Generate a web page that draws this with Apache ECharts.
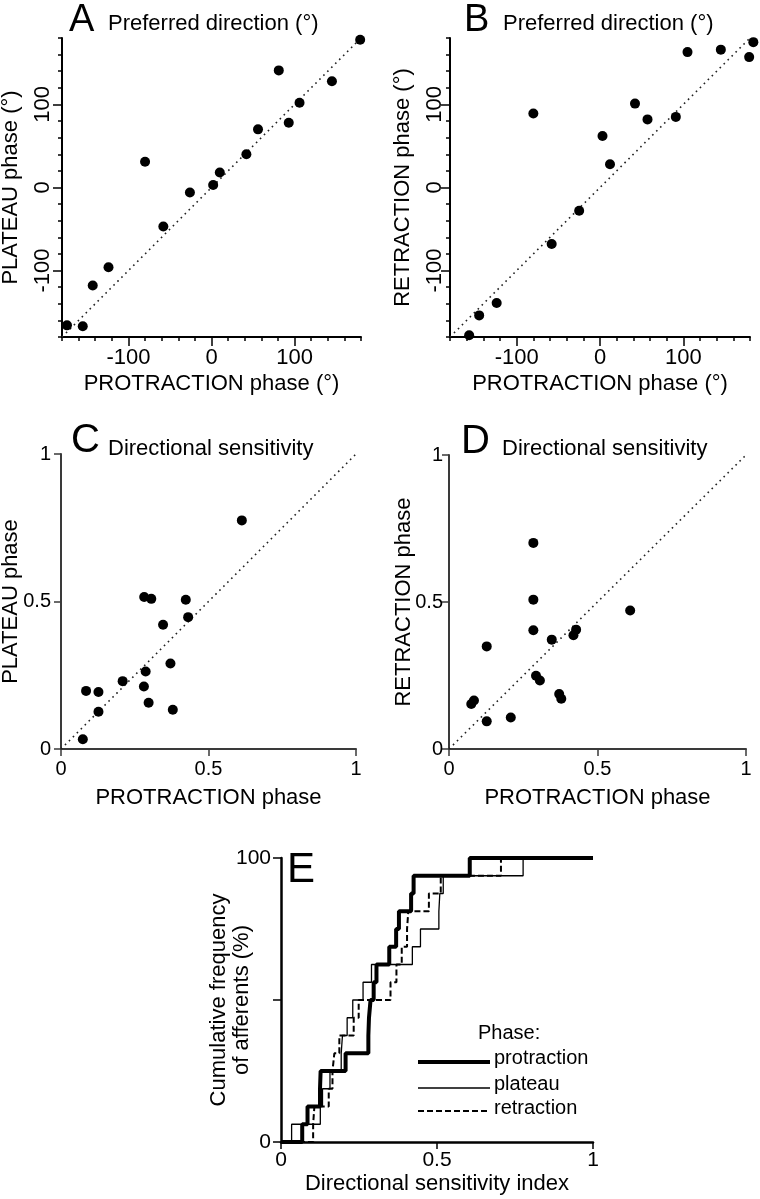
<!DOCTYPE html>
<html><head><meta charset="utf-8">
<script src="https://cdn.jsdelivr.net/npm/echarts@6/dist/echarts.min.js"></script>
<style>html,body{margin:0;padding:0;background:#fff}#c{width:760px;height:1199px}</style>
</head><body><div id="c"></div>
<script>
const FONT = 'Liberation Sans, Arial, sans-serif';

// ---- Panel A: preferred direction, protraction vs plateau (deg)
const aProtraction = [-174, -155, -143, -124, -80, -58, -26, 2, 10, 42, 56, 81, 93, 106, 145, 179];
const aPlateau     = [-166, -167, -118, -96, 31, -47, -6, 3, 18, 40, 70, 141, 78, 102, 128, 178];
// ---- Panel B: preferred direction, protraction vs retraction (deg)
const bProtraction = [-157, -145, -124, -80, -58, -25, 3, 12, 42, 57, 91, 105, 145, 179, 184];
const bRetraction  = [-178, -154, -139, 89, -68, -28, 62, 28, 101, 82, 85, 163, 166, 157, 175];
// ---- Panel C: directional sensitivity, protraction vs plateau
const cProtraction = [0.613, 0.282, 0.306, 0.423, 0.431, 0.346, 0.371, 0.287, 0.209, 0.281, 0.085, 0.127, 0.297, 0.379, 0.127, 0.074];
const cPlateau     = [0.775, 0.515, 0.509, 0.506, 0.447, 0.421, 0.290, 0.263, 0.230, 0.212, 0.197, 0.193, 0.157, 0.133, 0.126, 0.033];
// ---- Panel D: directional sensitivity, protraction vs retraction
const dProtraction = [0.284, 0.284, 0.610, 0.284, 0.428, 0.419, 0.346, 0.127, 0.293, 0.306, 0.371, 0.378, 0.075, 0.084, 0.127, 0.208];
const dRetraction  = [0.701, 0.508, 0.471, 0.404, 0.406, 0.387, 0.372, 0.349, 0.249, 0.233, 0.187, 0.171, 0.153, 0.165, 0.094, 0.107];
// ---- Panel E: cumulative distributions (step positions along the index axis)
const eProtraction = [0.068, 0.085, 0.125, 0.127, 0.207, 0.280, 0.282, 0.287, 0.297, 0.306, 0.347, 0.369, 0.378, 0.417, 0.425, 0.605];
const ePlateau     = [0.034, 0.126, 0.133, 0.157, 0.193, 0.197, 0.212, 0.230, 0.263, 0.290, 0.421, 0.447, 0.506, 0.509, 0.520, 0.776];
const eRetraction  = [0.103, 0.107, 0.153, 0.165, 0.171, 0.187, 0.233, 0.249, 0.351, 0.370, 0.387, 0.404, 0.408, 0.474, 0.512, 0.705];
const eLevels      = [6.25, 12.5, 18.75, 25, 31.25, 37.5, 43.75, 50, 56.25, 62.5, 68.75, 75, 81.25, 87.5, 93.75, 100];

// ---- axes / ticks
const degRange  = [-180, 180];
const degTicks  = [-100, 0, 100];
const unitRange = [0, 1];
const eYRange   = [0, 100];
const eYLabels  = [0, 100];

const pairs = (xs, ys) => xs.map((x, i) => [x, ys[i]]);
const ecdf = xs => [[unitRange[0], 0]].concat(xs.map((x, i) => [x, eLevels[i]])).concat([[unitRange[1], 100]]);

const nameStyle = (size, extra) => Object.assign({ fontSize: size, color: '#000', fontFamily: FONT }, extra || {});

function mainAxis(gi, range, interval, tickLen, color, lw, extra) {
  return Object.assign({
    gridIndex: gi, type: 'value', min: range[0], max: range[1], interval: interval,
    axisLine: { show: true, onZero: false, lineStyle: { color: color, width: lw } },
    axisTick: { show: true, length: tickLen, lineStyle: { color: color, width: 1.5 } },
    axisLabel: { show: false },
    splitLine: { show: false },
    nameMoveOverlap: false
  }, extra || {});
}
function overlayAxis(gi, range, name, nameGap, labelMargin, rotate) {
  return {
    gridIndex: gi, type: 'value', min: range[0], max: range[1],
    axisLine: { show: false, onZero: false },
    axisTick: { show: true, customValues: degTicks, length: 9, lineStyle: { color: '#000', width: 1.5 } },
    axisLabel: { show: true, customValues: degTicks, fontSize: 22, color: '#000', fontFamily: FONT, margin: labelMargin, rotate: rotate || 0 },
    splitLine: { show: false },
    name: name, nameLocation: 'middle', nameGap: nameGap, nameMoveOverlap: false,
    nameTextStyle: nameStyle(22)
  };
}
function unitAxis(gi, name, nameGap, margin, color) {
  return mainAxis(gi, unitRange, 0.5, 7, color, 2, {
    axisLabel: { show: true, fontSize: 20, color: '#000', fontFamily: FONT, margin: margin },
    name: name, nameLocation: 'middle', nameGap: nameGap, nameMoveOverlap: false,
    nameTextStyle: nameStyle(22)
  });
}

const grids = [
  { left: 62, top: 38, width: 299, height: 299 },      // 0 A
  { left: 62, top: 38, width: 299, height: 299 },      // 1 A overlay
  { left: 450, top: 38, width: 300, height: 299 },     // 2 B
  { left: 450, top: 38, width: 300, height: 299 },     // 3 B overlay
  { left: 61, top: 454, width: 295, height: 295 },     // 4 C
  { left: 449, top: 455, width: 297, height: 294 },    // 5 D
  { left: 281, top: 858, width: 312, height: 284 }     // 6 E
].map(g => Object.assign({ outerBoundsMode: 'none', containLabel: false, show: false }, g));

const CD = '#3a3a3a';
const xAxes = [
  mainAxis(0, degRange, 20, 4, '#000', 2),
  overlayAxis(1, degRange, 'PROTRACTION phase (°)', 36, 10),
  mainAxis(2, degRange, 20, 4, '#000', 2),
  overlayAxis(3, degRange, 'PROTRACTION phase (°)', 36, 10),
  unitAxis(4, 'PROTRACTION phase', 38, 10, CD),
  unitAxis(5, 'PROTRACTION phase', 38, 10, CD),
  mainAxis(6, unitRange, 0.5, 7, '#000', 2.5, {
    axisLabel: { show: true, fontSize: 21, color: '#000', fontFamily: FONT, margin: 8 },
    name: 'Directional sensitivity index', nameLocation: 'middle', nameGap: 31,
    nameTextStyle: nameStyle(22)
  })
];
const yAxes = [
  mainAxis(0, degRange, 20, 4, '#000', 2),
  overlayAxis(1, degRange, 'PLATEAU phase (°)', 40, 8, 90),
  mainAxis(2, degRange, 20, 4, '#000', 2),
  overlayAxis(3, degRange, 'RETRACTION phase (°)', 36, 4, 90),
  unitAxis(4, 'PLATEAU phase', 39, 10, CD),
  unitAxis(5, 'RETRACTION phase', 34, 6, CD),
  mainAxis(6, eYRange, 50, 8, '#000', 2.5, {
    axisLabel: { show: true, fontSize: 21, color: '#000', fontFamily: FONT, margin: 10,
      formatter: v => (eYLabels.indexOf(v) >= 0 ? String(v) : '') },
    name: 'Cumulative frequency\nof afferents (%)', nameLocation: 'middle', nameGap: 28,
    nameTextStyle: nameStyle(22, { lineHeight: 23 })
  })
];

function scatter(ai, data) {
  return { type: 'scatter', xAxisIndex: ai, yAxisIndex: ai, data: data, symbol: 'circle', symbolSize: 10,
    itemStyle: { color: '#000', opacity: 1 }, clip: false, silent: true, z: 3 };
}
function diagonal(ai, range) {
  return { type: 'line', xAxisIndex: ai, yAxisIndex: ai, data: [[range[0], range[0]], [range[1], range[1]]],
    showSymbol: false, symbol: 'none', silent: true, clip: false,
    lineStyle: { color: '#222', width: 1.6, type: [1.6, 4] }, z: 2 };
}
function stepLine(data, width, type) {
  return { type: 'line', xAxisIndex: 6, yAxisIndex: 6, data: data, step: 'end', showSymbol: false, symbol: 'none',
    silent: true, clip: false, lineStyle: { color: '#000', width: width, type: type || 'solid', opacity: 1 } };
}

const series = [
  diagonal(0, degRange), scatter(0, pairs(aProtraction, aPlateau)),
  diagonal(2, degRange), scatter(2, pairs(bProtraction, bRetraction)),
  diagonal(4, unitRange), scatter(4, pairs(cProtraction, cPlateau)),
  diagonal(5, unitRange), scatter(5, pairs(dProtraction, dRetraction)),
  stepLine(ecdf(ePlateau), 1.3),
  stepLine(ecdf(eRetraction), 2, [6, 3]),
  stepLine(ecdf(eProtraction), 4)
];

function txt(x, y, text, size) {
  return { type: 'text', x: x, y: y, silent: true,
    style: { text: text, fontSize: size, fontFamily: FONT, fill: '#000', align: 'left', verticalAlign: 'middle' } };
}
function legLine(y, width, dash) {
  return { type: 'line', silent: true, shape: { x1: 418, y1: y, x2: 490, y2: y },
    style: { stroke: '#000', lineWidth: width, lineDash: dash || null } };
}
const graphic = [
  txt(69, 21, 'A', 38), txt(108, 24, 'Preferred direction (°)', 22),
  txt(464, 21, 'B', 38), txt(503, 24, 'Preferred direction (°)', 22),
  txt(71, 441, 'C', 40), txt(108, 449, 'Directional sensitivity', 22),
  txt(461, 442, 'D', 40), txt(502, 449, 'Directional sensitivity', 22),
  txt(287, 870, 'E', 42),
  txt(478, 1033, 'Phase:', 20),
  legLine(1062, 4), txt(494, 1058, 'protraction', 20),
  legLine(1088, 1.3), txt(494, 1084, 'plateau', 20),
  legLine(1111, 2, [6, 3]), txt(494, 1108, 'retraction', 20)
];

const chart = echarts.init(document.getElementById('c'), null, { renderer: 'canvas' });
chart.setOption({
  animation: false,
  backgroundColor: '#fff',
  grid: grids,
  xAxis: xAxes,
  yAxis: yAxes,
  series: series,
  graphic: graphic
});
</script>
</body></html>
